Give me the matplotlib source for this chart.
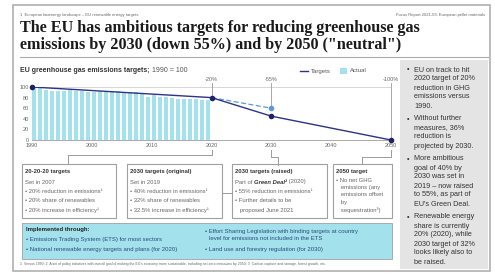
import matplotlib
matplotlib.use('Agg')
import matplotlib.pyplot as plt
from matplotlib.patches import Rectangle

plt.rcParams['font.family'] = ['Liberation Sans', 'DejaVu Sans']

# 数据
years_actual = list(range(1990, 2020))
actual = [100, 98, 95, 93, 93, 93, 95, 93, 92, 91,
          91, 92, 91, 92, 92, 91, 91, 90, 88, 82,
          84, 82, 81, 79, 77, 78, 78, 78, 76, 75]
target_years = [1990, 2020, 2030, 2050]
target_vals = [100, 80, 45, 0]
orig_years = [2020, 2030]
orig_vals = [80, 60]
milestones = [2020, 2030, 2050]
milestone_labels = ['-20%', '-55%', '-100%']
yticks = [0, 20, 40, 60, 80, 100]
xticks = [1990, 2000, 2010, 2020, 2030, 2040, 2050]

NAVY = '#2e3383'
CYAN = '#a3e2ec'
GRAY = '#9a9a9a'

W, H = 495, 277
fig = plt.figure(figsize=(W / 100, H / 100), dpi=100)
renderer = fig.canvas.get_renderer()

# 背景层，像素坐标
bg = fig.add_axes([0, 0, 1, 1])
bg.set_xlim(0, W)
bg.set_ylim(H, 0)
bg.axis('off')


# 一行里拼接不同字体的文字
def text_run(x, y, parts, size):
    for s, kw in parts:
        t = bg.text(x, y, s, fontsize=size, va='center', **kw)
        ext = t.get_window_extent(renderer)
        x += ext.width * 100 / fig.dpi


# 外框
bg.add_patch(Rectangle((13, 5), 477, 266, fill=False, ec='#b0b0b0', lw=1.2))
# 右侧灰色面板
bg.add_patch(Rectangle((400, 60), 88, 209, fc='#e4e4e4', ec='none'))

bg.text(20, 15, '1  European bioenergy landscape – EU renewable energy targets', fontsize=3, color='#666', va='center')
bg.text(485, 15, 'Focus Report 2021-03: European pellet materials', fontsize=3, color='#666', va='center', ha='right')
bg.text(20, 28, 'The EU has ambitious targets for reducing greenhouse gas', fontsize=11.6,
        family='Liberation Serif', weight='bold', color='#1a1a1a', va='center')
bg.text(20, 45, 'emissions by 2030 (down 55%) and by 2050 ("neutral")', fontsize=11.6,
        family='Liberation Serif', weight='bold', color='#1a1a1a', va='center')
bg.plot([20, 488], [57, 57], color='#aaaaaa', lw=0.8)

text_run(20, 71, [('EU greenhouse gas emissions targets;', dict(weight='bold', color='#333')),
                  (' 1990 = 100', dict(color='#555'))], 5)

# 图例
bg.plot([300, 308], [71, 71], color=NAVY, lw=1)
bg.text(311, 71, 'Targets', fontsize=4.3, color='#555', va='center')
bg.add_patch(Rectangle((340, 68), 7, 6, fc=CYAN, ec='none'))
bg.text(350, 71, 'Actual', fontsize=4.3, color='#555', va='center')

# 右侧要点
bullets = [
    ['EU on track to hit', '2020 target of 20%', 'reduction in GHG', 'emissions versus', '1990.'],
    ['Without further', 'measures, 36%', 'reduction is', 'projected by 2030.'],
    ['More ambitious', 'goal of 40% by', '2030 was set in', '2019 – now raised', 'to 55%, as part of', "EU's Green Deal."],
    ['Renewable energy', 'share is currently', '20% (2020), while', '2030 target of 32%', 'looks likely also to', 'be raised.'],
]
y = 70
for b in bullets:
    bg.text(407, y, '•', fontsize=5.2, color='#333', va='center')
    for line in b:
        bg.text(414, y, line, fontsize=5.2, color='#333', va='center')
        y += 9
    y += 4

# 下方方框
boxes = [
    (22, 94, '20-20-20 targets', ['Set in 2007', '• 20% reduction in emissions¹', '• 20% share of renewables',
                                  '• 20% increase in efficiency¹']),
    (127, 95, '2030 targets (original)', ['Set in 2019', '• 40% reduction in emissions¹', '• 32% share of renewables',
                                        '• 32.5% increase in efficiency¹']),
    (232, 95, '2030 targets (raised)', [None, '• 55% reduction in emissions¹', '• Further details to be',
                                      '   proposed June 2021']),
    (333, 59, '2050 target', ['• No net GHG', '   emissions (any', '   emissions offset', '   by', '   sequestration³)']),
]
for x0, w, title, lines in boxes:
    bg.add_patch(Rectangle((x0, 164), w, 54, fill=False, ec='#a0a0a0', lw=0.8))
    bg.text(x0 + 3, 172, title, fontsize=4.2, weight='bold', color='#333', va='center')
    yy = 182
    step = 9.5
    if title == '2050 target':
        yy, step = 180, 7.5
    for line in lines:
        if line is None:
            text_run(x0 + 3, yy, [('Part of ', dict(color='#666')),
                                  ('Green Deal²', dict(weight='bold', style='italic', color='#333')),
                                  (' (2020)', dict(color='#666'))], 4.2)
        else:
            bg.text(x0 + 3, yy, line, fontsize=4.2, color='#666', va='center')
        yy += step


# 连接线
def yr_px(yr):
    return 32 + (yr - 1990) * (391 - 32) / 60


bg.plot([yr_px(2020)] * 2 + [68, 68], [150, 155, 155, 164], color=GRAY, lw=0.7)
bg.plot([yr_px(2030)] * 2 + [278, 278], [150, 157, 157, 165], color=GRAY, lw=0.7)
bg.plot([yr_px(2050)] * 2 + [362, 362], [150, 157, 157, 164], color=GRAY, lw=0.7)
bg.plot([222, 232], [193, 193], color=GRAY, lw=0.7)

# 青色方框
bg.add_patch(Rectangle((22, 223), 370, 36, fc=CYAN, ec='#a0a0a0', lw=0.6))
bg.text(26, 229, 'Implemented through:', fontsize=4.3, weight='bold', color='#222', va='center')
bg.text(26, 240, '• Emissions Trading System (ETS) for most sectors', fontsize=4.3, color='#2d4a7a', va='center')
bg.text(26, 249, '• National renewable energy targets and plans (for 2020)', fontsize=4.3, color='#2d4a7a', va='center')
bg.text(205, 232, '• Effort Sharing Legislation with binding targets at country', fontsize=4.3, color='#2d4a7a', va='center')
bg.text(209, 239, 'level for emissions not included in the ETS', fontsize=4.3, color='#2d4a7a', va='center')
bg.text(205, 249, '• Land use and forestry regulation (for 2030)', fontsize=4.3, color='#2d4a7a', va='center')

bg.text(20, 264, "1  Versus 1990; 2  A set of policy initiatives with overall goal of making the EU's economy more "
        "sustainable, including net zero emissions by 2050; 3  Carbon capture and storage, forest growth, etc.",
        fontsize=2.5, color='#666', va='center')

# 图表
ax = fig.add_axes([32 / W, 1 - 140 / H, (391 - 32) / W, 53 / H])
ax.patch.set_alpha(0)
ax.set_xlim(1990, 2050)
ax.set_ylim(0, 100)
ax.bar(years_actual, actual, width=0.72, align='edge', color=CYAN, zorder=1)
ax.axhline(100, color='#d0d0d0', lw=0.6, zorder=0)
ax.plot(orig_years, orig_vals, color='#5b9bd5', lw=0.9, ls=(0, (4, 2)), zorder=3)
ax.plot(orig_years[-1], orig_vals[-1], 'o', color='#5b9bd5', ms=3, zorder=4, clip_on=False)
ax.plot(target_years, target_vals, color=NAVY, lw=1, zorder=3)
ax.plot(target_years, target_vals, 'o', color='#1d2266', ms=3, zorder=4, clip_on=False)

for yr, lab in zip(milestones, milestone_labels):
    top = max([v for t, v in zip(target_years, target_vals) if t == yr] +
              [v for t, v in zip(orig_years, orig_vals) if t == yr])
    ax.plot([yr, yr], [top, 108], color=GRAY, lw=0.6, zorder=0, clip_on=False)
    ax.text(yr, 114, lab, fontsize=4, color='#666', ha='center', va='center')

for s in ['top', 'right', 'left']:
    ax.spines[s].set_visible(False)
ax.spines['bottom'].set_color('#aaaaaa')
ax.spines['bottom'].set_linewidth(0.7)
ax.set_yticks(yticks)
ax.set_xticks(xticks)
ax.tick_params(length=0, labelsize=4, colors='#666', pad=2)

fig.savefig('out.png', dpi=100)
